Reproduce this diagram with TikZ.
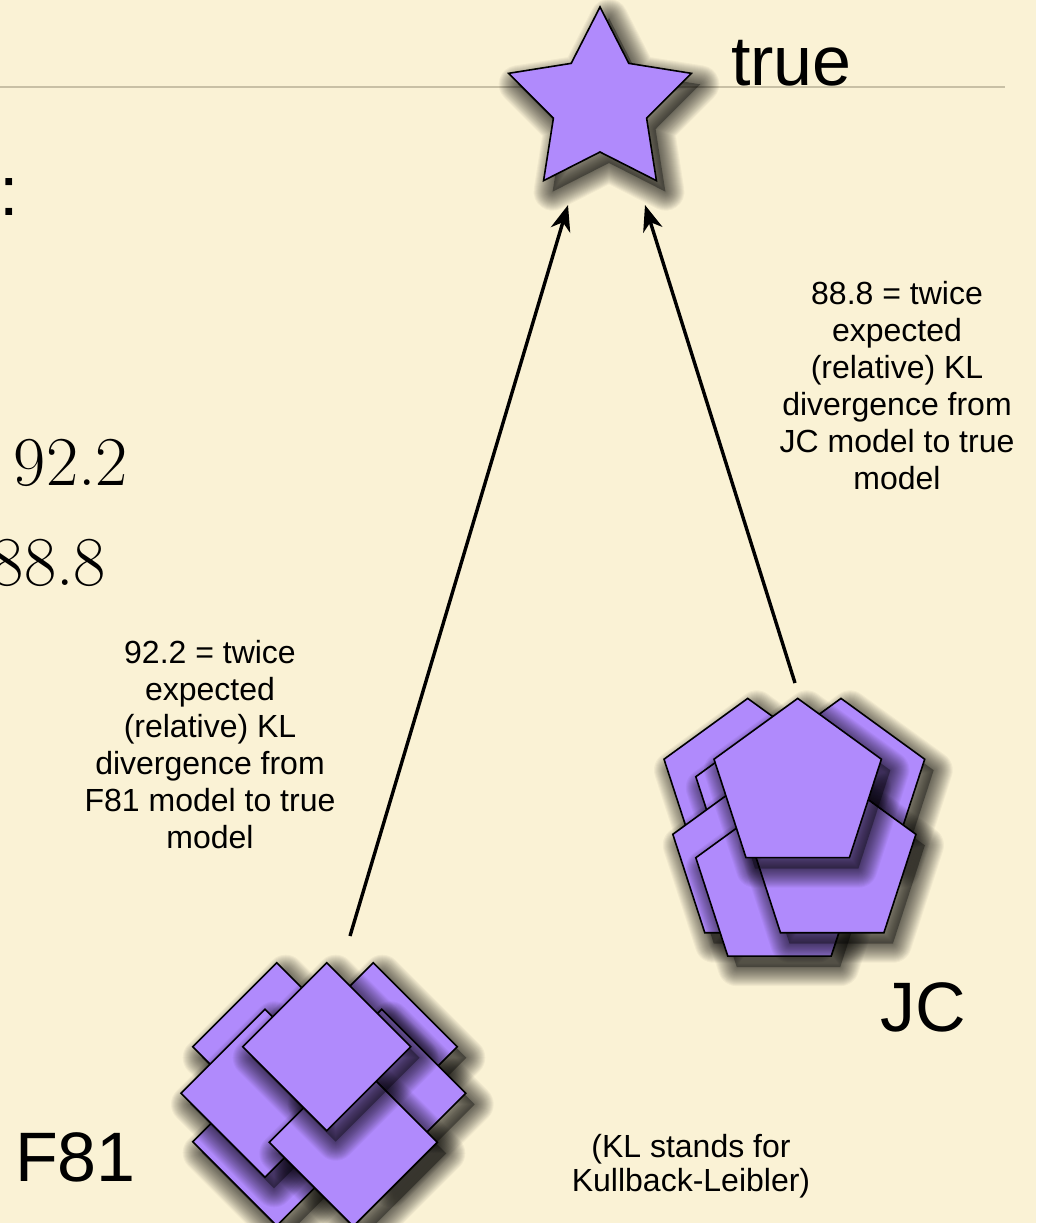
\documentclass[tikz,border=0pt]{standalone}
\usepackage{fontspec}
\newfontfamily\hv{Liberation Sans}
\usetikzlibrary{arrows.meta}
\definecolor{bg}{RGB}{250,242,213}
\definecolor{lav}{RGB}{176,138,252}
\definecolor{rulec}{RGB}{200,192,165}
\tikzset{
  shlayer/.style={preaction={draw=black,draw opacity=.04,fill opacity=0,line width=#1,line join=round,
     transform canvas={shift={(9pt,-11pt)}}}},
  softshadow/.style={
    preaction={fill=black,fill opacity=.33,draw opacity=0,transform canvas={shift={(9pt,-11pt)}}},
    shlayer=38pt,shlayer=36pt,shlayer=34pt,shlayer=32pt,shlayer=30pt,shlayer=28pt,
    shlayer=26pt,shlayer=24pt,shlayer=22pt,shlayer=20pt,shlayer=18pt,shlayer=16pt,
    shlayer=14pt,shlayer=12pt,shlayer=10pt,shlayer=8pt,shlayer=6pt,shlayer=4pt,shlayer=2pt}
}
\begin{document}
\begin{tikzpicture}[x=1pt,y=-1pt,
  shp/.style={softshadow,fill=lav,draw=black,line width=1.6pt,line join=miter},
  conn/.style={line width=3.4pt,-{Stealth[length=26pt,width=20pt,inset=8pt]}},
  lbl/.style={font=\hv\fontsize{32}{37}\selectfont,align=center,inner sep=0pt},
  note/.style={font=\hv\fontsize{32}{34.5}\selectfont,align=center,inner sep=0pt},
  big/.style={font=\hv\fontsize{70}{70}\selectfont,inner sep=0pt},
  num/.style={font=\fontsize{70}{70}\selectfont,inner sep=0pt}]
\useasboundingbox (0,0) rectangle (1036,1223);
\clip (0,0) rectangle (1036,1223);
\fill[bg] (0,0) rectangle (1036,1223);
% slide rule
\draw[rulec,line width=2pt] (0,87) -- (1005,87);
% partial slide text on the left
\node[big,anchor=base west] (colon) at (-1,215) {:};
\node[num,anchor=base east] (v1) at (128,485) {92.2};
\node[num,anchor=base east] (v2) at (106,585) {88.8};
% star (true model)
\coordinate (truec) at (600,103);
\draw[shp,shift={(600,103)}] (-90:96) -- (-54:49) -- (-18:96) -- (18:49) -- (54:96) -- (90:49) -- (126:96) -- (162:49) -- (198:96) -- (234:49) -- cycle;
\node[big,anchor=base west] (truelbl) at (731,85) {true};
% JC pentagons
\foreach \cx/\cy in {747.7/786.4, 841/786.4, 779.5/803.9, 756.5/861.5, 779.5/884.9, 832.2/861.5, 797.7/786.4}
  \draw[shp,shift={(\cx,\cy)}] (-90:88) -- (-18:88) -- (54:88) -- (126:88) -- (198:88) -- cycle;
\coordinate (jc) at (797.7,786.4);
% F81 diamonds
\foreach \cx/\cy in {276.7/1046.7, 373.3/1046.7, 276.7/1141.7, 265/1093.3, 381.7/1093.3, 353.3/1142.3, 326.7/1046.7}
  \draw[shp,shift={(\cx,\cy)}] (0,-84) -- (84,0) -- (0,84) -- (-84,0) -- cycle;
\coordinate (f81) at (326.7,1046.7);
% connector ends
\coordinate (f81top) at (350,936);
\coordinate (jctop) at (795,683);
\coordinate (inL) at (568,205);
\coordinate (inR) at (645,205);
\draw[conn] (f81top) -- (inL);
\draw[conn] (jctop) -- (inR);
% labels
\node[lbl,anchor=north] (lblF) at (210,640) {92.2 = twice\\expected\\(relative) KL\\divergence from\\F81 model to true\\model};
\node[lbl,anchor=north] (lblJ) at (897,281) {88.8 = twice\\expected\\(relative) KL\\divergence from\\JC model to true\\model};
\node[big,anchor=base west] (F81lbl) at (15,1181) {F81};
\node[big,anchor=base west] (JClbl) at (880,1031) {JC};
\node[note,anchor=north] (kl) at (691,1134) {(KL stands for\\Kullback-Leibler)};
\end{tikzpicture}
\end{document}
